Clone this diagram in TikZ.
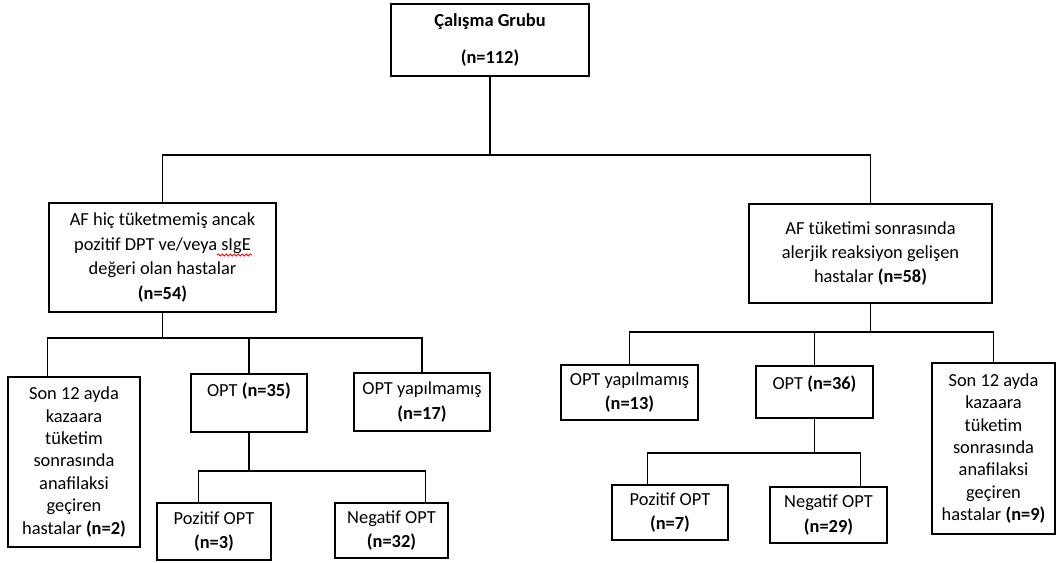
\documentclass[tikz,border=0pt]{standalone}
\usepackage{fontspec}
\setmainfont{Carlito}
\usetikzlibrary{calc,decorations.pathmorphing}

\begin{document}
\begin{tikzpicture}[x=0.75pt, y=-0.75pt,
    kutu/.style={draw, line width=1.1pt, inner sep=0pt, align=center,
        font=\fontsize{13.8}{18.3}\selectfont},
    uzun/.style={font=\fontsize{13.8}{16.8}\selectfont},
    boyut/.style 2 args={minimum width=#1*0.75pt, minimum height=#2*0.75pt},
    cizgi/.style={line width=0.9pt}]
\useasboundingbox (0,0) rectangle (1061,563);

% kutular
\node[kutu, boyut={198}{72}] (calisma) at (490,40)
    {\textbf{Çalışma Grubu}\\[9pt]\textbf{(n=112)}};
\node[kutu, boyut={227}{109}] (grupA) at (162.5,257.5)
    {AF hiç tüketmemiş ancak\\pozitif DPT ve/veya sIgE\\değeri olan hastalar\\\textbf{(n=54)}};
\node[kutu, boyut={243}{99}] (grupB) at (870.5,253.5)
    {AF tüketimi sonrasında\\alerjik reaksiyon gelişen\\hastalar \textbf{(n=58)}};

\node[kutu, uzun, boyut={132}{170}] (sonA) at (74,462)
    {Son 12 ayda\\kazaara\\tüketim\\sonrasında\\anafilaksi\\geçiren\\hastalar \textbf{(n=2)}};
\node[kutu, boyut={116}{58}] (optA) at (249,403)
    {OPT \textbf{(n=35)}\\\phantom{(n=35)}};
\node[kutu, boyut={136}{58}] (yokA) at (422,402)
    {OPT yapılmamış\\\textbf{(n=17)}};
\node[kutu, boyut={114}{57}] (pozA) at (214,531.5)
    {Pozitif OPT\\\textbf{(n=3)}};
\node[kutu, boyut={113}{55}] (negA) at (391.5,530.5)
    {Negatif OPT\\\textbf{(n=32)}};

\node[kutu, boyut={137}{55}] (yokB) at (629.5,392.5)
    {OPT yapılmamış\\\textbf{(n=13)}};
\node[kutu, boyut={117}{52}] (optB) at (814.5,392)
    {OPT \textbf{(n=36)}\\[-6pt]\phantom{(n=36)}};
\node[kutu, uzun, boyut={123}{171}] (sonB) at (993.5,448.5)
    {Son 12 ayda\\kazaara\\tüketim\\sonrasında\\anafilaksi\\geçiren\\hastalar \textbf{(n=9)}};
\node[kutu, boyut={116}{55}] (pozB) at (670,512.5)
    {Pozitif OPT\\\textbf{(n=7)}};
\node[kutu, boyut={117}{56}] (negB) at (828.5,515)
    {Negatif OPT\\\textbf{(n=29)}};

% imla dalgası
\draw[red, line width=0.6pt, decorate,
    decoration={snake, amplitude=0.8pt, segment length=3pt}] (217,255) -- (252,255);

% baglantilar
\coordinate (kok) at (490,155);
\draw[cizgi] (calisma.south) -- (kok);
\draw[cizgi] (grupA.north) |- (kok) -| (grupB.north);

\coordinate (dalA) at (grupA.south |- 0,338);
\draw[cizgi] (grupA.south) -- (dalA);
\draw[cizgi] ($(sonA.north west)+(40,0)$) |- (dalA) -| (yokA.north);
\draw[cizgi] (optA.north) -- (optA.north |- dalA);

\coordinate (dalA2) at (optA.south |- 0,471);
\draw[cizgi] (optA.south) -- (dalA2);
\draw[cizgi] ($(pozA.north west)+(42,0)$) |- (dalA2) -| ($(negA.north west)+(91,0)$);

\coordinate (dalB) at (grupB.south |- 0,332);
\draw[cizgi] (grupB.south) -- (dalB);
\draw[cizgi] (yokB.north) |- (dalB) -| (sonB.north);
\draw[cizgi] (optB.north) -- (optB.north |- dalB);

\coordinate (dalB2) at (optB.south |- 0,453);
\draw[cizgi] (optB.south) -- (dalB2);
\draw[cizgi] ($(pozB.north west)+(36,0)$) |- (dalB2) -| ($(negB.north west)+(91,0)$);
\end{tikzpicture}
\end{document}
